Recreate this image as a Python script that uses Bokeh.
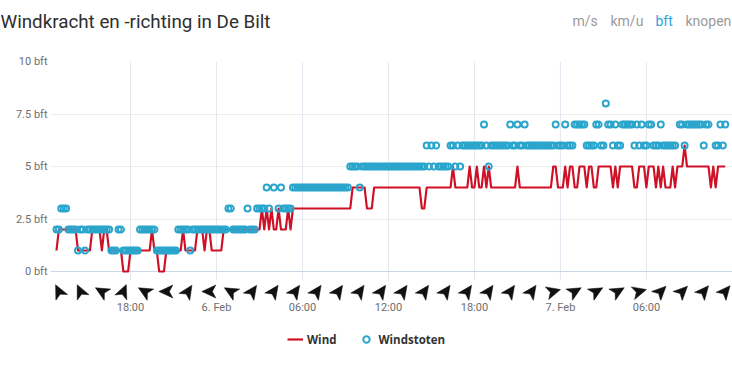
from bokeh.plotting import figure
from bokeh.layouts import column
from bokeh.models import Label, Legend, LegendItem, FixedTicker, Range1d
from bokeh.embed import file_html
from bokeh.resources import INLINE
import math

_ = None
# Hours since 5 Feb 00:00, one reading every 10 minutes, starting 12:50
start_hour = 12 + 50 / 60
wind_values = [
    1,
    2,2,2,2,2,2,  2,2,1,1,1,1,  1,1,2,2,2,2,  1,2,2,1,1,1,  1,1,1,0,0,0,  # 13-17
    1,1,1,1,1,1,  1,1,1,2,1,1,  0,0,0,1,1,1,  1,1,1,1,2,1,  1,1,1,1,2,2,  2,1,2,2,1,1,  # 18-23
    1,1,1,2,2,2,  2,2,2,2,2,2,  2,2,2,2,2,2,  2,3,2,3,2,3,  2,2,3,2,2,2,  3,2,3,3,3,3,  # 00-05
    3,3,3,3,3,3,  3,3,3,3,3,3,  3,3,3,3,3,3,  3,3,3,4,4,4,  4,4,4,3,3,3,  4,4,4,4,4,4,  # 06-11
    4,4,4,4,4,4,  4,4,4,4,4,4,  4,4,3,3,4,4,  4,4,4,4,4,4,  4,4,4,5,4,4,  4,4,4,4,5,4,  # 12-17
    4,5,4,4,5,4,  5,4,4,4,4,4,  4,4,4,4,4,4,  5,4,4,4,4,4,  4,4,4,4,4,4,  4,4,4,5,5,4,  # 18-23
    4,4,5,4,5,5,  4,4,5,5,5,4,  5,5,4,4,5,5,  5,5,5,5,4,5,  4,5,5,5,5,5,  5,4,4,5,5,5,  # 00-05
    4,5,5,5,4,5,  4,5,4,4,4,5,  4,5,5,5,6,5,  5,5,5,5,5,5,  5,5,5,4,5,4,  5,5,5,5,      # 06-11
]
gust_values = [
    2,
    2,3,3,3,2,2,  2,2,1,2,2,1,  2,2,2,2,2,2,  2,2,2,2,1,1,  1,2,2,1,1,1,
    1,1,1,1,2,2,  2,2,2,2,2,1,  1,1,1,1,1,1,  1,1,2,2,2,2,  2,1,2,2,2,2,  2,2,2,2,2,2,
    2,2,2,2,2,3,  3,2,2,2,2,2,  2,3,2,2,2,3,  3,3,3,4,3,_,  4,_,3,4,3,3,  3,3,4,4,4,4,
    4,4,4,4,4,4,  4,4,4,4,4,4,  4,4,4,4,4,4,  4,4,5,5,5,5,  4,5,5,5,5,5,  5,5,5,5,5,5,
    5,5,5,5,5,5,  5,5,5,5,5,5,  5,5,5,5,6,5,  6,5,6,5,5,5,  5,5,6,6,5,6,  5,6,6,6,6,6,
    6,6,6,6,7,6,  5,6,6,6,6,6,  6,6,6,7,6,6,  7,6,6,7,6,6,  6,6,6,6,6,6,  6,6,6,6,7,6,
    6,6,7,6,6,6,  7,7,7,7,7,6,  6,6,6,7,7,6,  6,8,7,7,6,7,  6,6,7,7,7,7,  7,6,7,6,7,6,
    6,7,7,6,6,6,  7,6,6,6,6,6,  6,_,7,7,6,7,  7,7,7,7,7,7,  6,7,7,_,_,6,  6,7,6,7,
]
# Wind direction arrows, one every 1.5 h from 13:00: heading of the tip in degrees (screen, counter-clockwise)
arrow_heading = [116, 115, 150, 67, 150, 180, 57, 180, 150,
                 55, 55, 55, 55, 55, 55, 55, 55, 55, 55, 55, 55, 55, 55,
                 15, 30, 30, 30, 15, 45, 45, 50, 50]
arrow_start_hour = 13.0
x_ticks = [18, 24, 30, 36, 42, 48, 54]
x_labels = ["18:00", "6. Feb", "06:00", "12:00", "18:00", "7. Feb", "06:00"]
y_ticks = [0, 2.5, 5, 7.5, 10]
y_labels = ["0 bft", "2.5 bft", "5 bft", "7.5 bft", "10 bft"]
units = ["m/s", "km/u", "bft", "knopen"]
title = "Windkracht en -richting in De Bilt"

W, H = 732, 369
HEAD, FOOT = 50, 49     # heights of the header and footer strips
FL, FR, FT, FB = 50, 732, 61, 300   # frame edges in page pixels
PXH, PXB = 14.33, 21.0
def hx(px):  # page px -> hour
    return 24 + (px - 216.0) / PXH
def vy(py):  # page py -> bft
    return (271.0 - py) / PXB

times = [start_hour + i / 6 for i in range(len(wind_values))]
gust_t = [t for t, g in zip(times, gust_values) if g is not None]
gust_v = [g for g in gust_values if g is not None]

def strip(height):
    f = figure(width=W, height=height, output_backend="svg", toolbar_location=None,
               x_range=Range1d(0, W), y_range=Range1d(height, 0),
               min_border=0, x_axis_location=None, y_axis_location=None)
    f.outline_line_color = None
    f.grid.visible = False
    f.frame_align = False
    return f

# header strip: title and unit switches
head = strip(HEAD)
head.add_layout(Label(x=0, y=21, text=title, text_font="Roboto", text_font_size="18.8px",
                      text_color="#2e2e2e", text_baseline="middle"))
for txt, px, col in zip(units, [572, 610, 655, 685],
                        ["#9a9a9a", "#9a9a9a", "#2ea3e0", "#9a9a9a"]):
    head.add_layout(Label(x=px, y=20, text=txt, text_font="Roboto", text_font_size="14px",
                          text_color=col, text_baseline="middle"))

p = figure(width=W, height=H - HEAD - FOOT, output_backend="svg", toolbar_location=None,
           x_range=Range1d(hx(FL), hx(FR)), y_range=Range1d(vy(FB), vy(FT)),
           min_border_left=FL, min_border_right=W - FR, min_border_top=FT - HEAD,
           min_border_bottom=H - FOOT - FB)
p.frame_align = False
p.outline_line_color = None
p.xgrid.grid_line_color = None
p.ygrid.grid_line_color = "#ececec"
p.ygrid.bounds = (0.1, 10)

p.xaxis.ticker = FixedTicker(ticks=x_ticks)
p.xaxis.major_label_overrides = dict(zip(x_ticks, x_labels))
p.yaxis.ticker = FixedTicker(ticks=y_ticks)
p.yaxis.major_label_overrides = dict(zip(y_ticks, y_labels))
for ax in (p.xaxis[0], p.yaxis[0]):
    ax.axis_line_color = None
    ax.major_tick_line_color = None
    ax.minor_tick_line_color = None
    ax.major_tick_out = 0
    ax.major_tick_in = 0
    ax.major_label_text_font = "Roboto"
    ax.major_label_text_font_size = "11px"
    ax.major_label_text_color = "#6e6e6e"
p.xaxis.major_label_standoff = 0
p.yaxis.major_label_standoff = 3

# vertical grid lines stop below the plot, above the arrows
p.segment(x0=x_ticks, x1=x_ticks, y0=[vy(280)] * len(x_ticks), y1=[10] * len(x_ticks),
          line_color="#e4e6f0", line_width=1)
p.segment(x0=[hx(FL)], x1=[hx(FR)], y0=[0], y1=[0], line_color="#ccd6eb", line_width=1)

line_style = dict(line_color="#cf1127", line_width=2.2)
circ_style = dict(marker="circle", size=6, line_color="#2ba5cc", line_width=2, fill_alpha=0)
p.line(times, wind_values, line_join="round", **line_style)
p.scatter(gust_t, gust_v, **circ_style)

# arrows: a fixed pixel shape turned to each heading
shape = [(7.5, 0), (-6.5, 6.5), (-3, 0), (-6.5, -6.5)]
xs, ys = [], []
for k, a in enumerate(arrow_heading):
    cx = arrow_start_hour + 1.5 * k
    r = math.radians(a)
    xs.append([cx + (u * math.cos(r) - v * math.sin(r)) / PXH for u, v in shape])
    ys.append([vy(291) + (u * math.sin(r) + v * math.cos(r)) / PXB for u, v in shape])
p.patches(xs, ys, fill_color="#111111", line_color="#111111", line_width=0.5)

# footer strip: the legend (its glyphs carry no visible data)
foot = strip(FOOT)
nan = float("nan")
leg_line = foot.line([nan], [nan], **line_style)
leg_circ = foot.scatter([nan], [nan], **circ_style)
legend = Legend(items=[LegendItem(label="Wind", renderers=[leg_line]),
                       LegendItem(label="Windstoten", renderers=[leg_circ])],
                orientation="horizontal", location=(287, 20), border_line_color=None,
                background_fill_alpha=0, label_text_font="Open Sans",
                label_text_font_style="bold", label_text_font_size="11.5px",
                label_text_color="#333333", glyph_width=16, spacing=22,
                label_standoff=4, margin=0, padding=6)
foot.add_layout(legend, "center")

open("out.html", "w").write(file_html(column(head, p, foot, spacing=0), INLINE))
